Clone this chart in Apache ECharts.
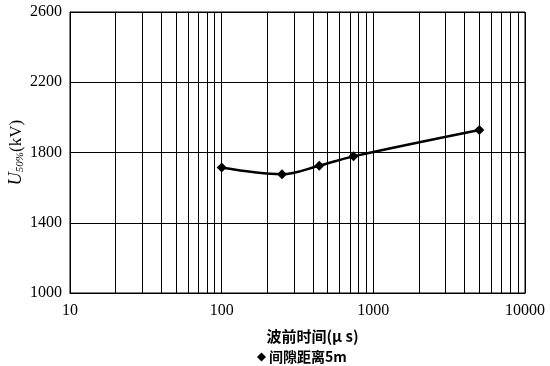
<!DOCTYPE html>
<html><head><meta charset="utf-8">
<script src="https://cdn.jsdelivr.net/npm/echarts@6/dist/echarts.min.js"></script>
<style>html,body{margin:0;padding:0;background:#fff}#c{width:550px;height:366px}</style>
</head><body><div id="c"></div>
<script>
var frontTime = [100, 250, 440, 740, 5000];
var u50 = [1714, 1676, 1725, 1778, 1928];
var seriesName = '间隙距离5m';
var xTicks = [10, 100, 1000, 10000];
var yTicks = [1000, 1400, 1800, 2200, 2600];
var minorDecades = [10, 100, 1000];
var minorSteps = [2, 3, 4, 5, 6, 7, 8, 9];

var minorLines = [];
minorDecades.forEach(function (d) { minorSteps.forEach(function (k) { minorLines.push({ xAxis: k * d }); }); });

var serif = 'Liberation Serif';
var cjk = 'Noto Sans CJK SC';
var chart = echarts.init(document.getElementById('c'), null, { renderer: 'canvas' });
chart.setOption({
  animation: false,
  backgroundColor: '#fff',
  grid: { left: 70, right: 25, top: 12, bottom: 73, show: true, borderColor: '#000', borderWidth: 1, containLabel: false, outerBoundsMode: 'none' },
  legend: {
    data: [seriesName], bottom: -3, left: 252, icon: 'diamond', itemWidth: 9, itemHeight: 9, itemGap: 2,
    textStyle: { fontFamily: cjk, fontSize: 14, color: '#000', fontWeight: 'bold', padding: [0, 0, 0, -2] }
  },
  xAxis: {
    type: 'log', min: xTicks[0], max: xTicks[xTicks.length - 1], logBase: 10,
    name: '波前时间(μ s)', nameLocation: 'middle', nameGap: 36, nameMoveOverlap: false,
    nameTextStyle: { fontFamily: cjk, fontSize: 15, color: '#000', fontWeight: 'bold', padding: [0, 0, 0, 30] },
    axisLine: { show: true, lineStyle: { color: '#000', width: 1 } },
    axisTick: { show: false },
    axisLabel: { fontFamily: serif, fontSize: 16, color: '#000', margin: 10, formatter: function (v) { return String(v); } },
    splitLine: { show: true, lineStyle: { color: '#000', width: 1 } }
  },
  yAxis: {
    type: 'value', min: yTicks[0], max: yTicks[yTicks.length - 1], interval: 400,
    name: '{i|U}{s|50%}{n|(kV)}', nameLocation: 'middle', nameGap: 44, nameRotate: 90, nameMoveOverlap: false,
    nameTextStyle: {
      rich: {
        i: { fontFamily: serif, fontStyle: 'italic', fontSize: 18, color: '#000' },
        s: { fontFamily: serif, fontStyle: 'italic', fontSize: 11, color: '#000', padding: [8, 0, 0, 0] },
        n: { fontFamily: serif, fontSize: 17, color: '#000' }
      }
    },
    axisLine: { show: true, lineStyle: { color: '#000', width: 1 } },
    axisTick: { show: false },
    axisLabel: { fontFamily: serif, fontSize: 16, color: '#000', margin: 8, formatter: function (v) { return String(v); } },
    splitLine: { show: true, lineStyle: { color: '#000', width: 1 } }
  },
  series: [{
    name: seriesName, type: 'line', smooth: 0.35,
    data: frontTime.map(function (t, i) { return [t, u50[i]]; }),
    symbol: 'diamond', symbolSize: 10,
    lineStyle: { color: '#000', width: 2.5 },
    itemStyle: { color: '#000' },
    markLine: {
      silent: true, symbol: 'none', label: { show: false },
      lineStyle: { color: '#000', width: 1, type: 'solid', opacity: 1 },
      data: minorLines
    }
  }]
});
</script></body></html>
